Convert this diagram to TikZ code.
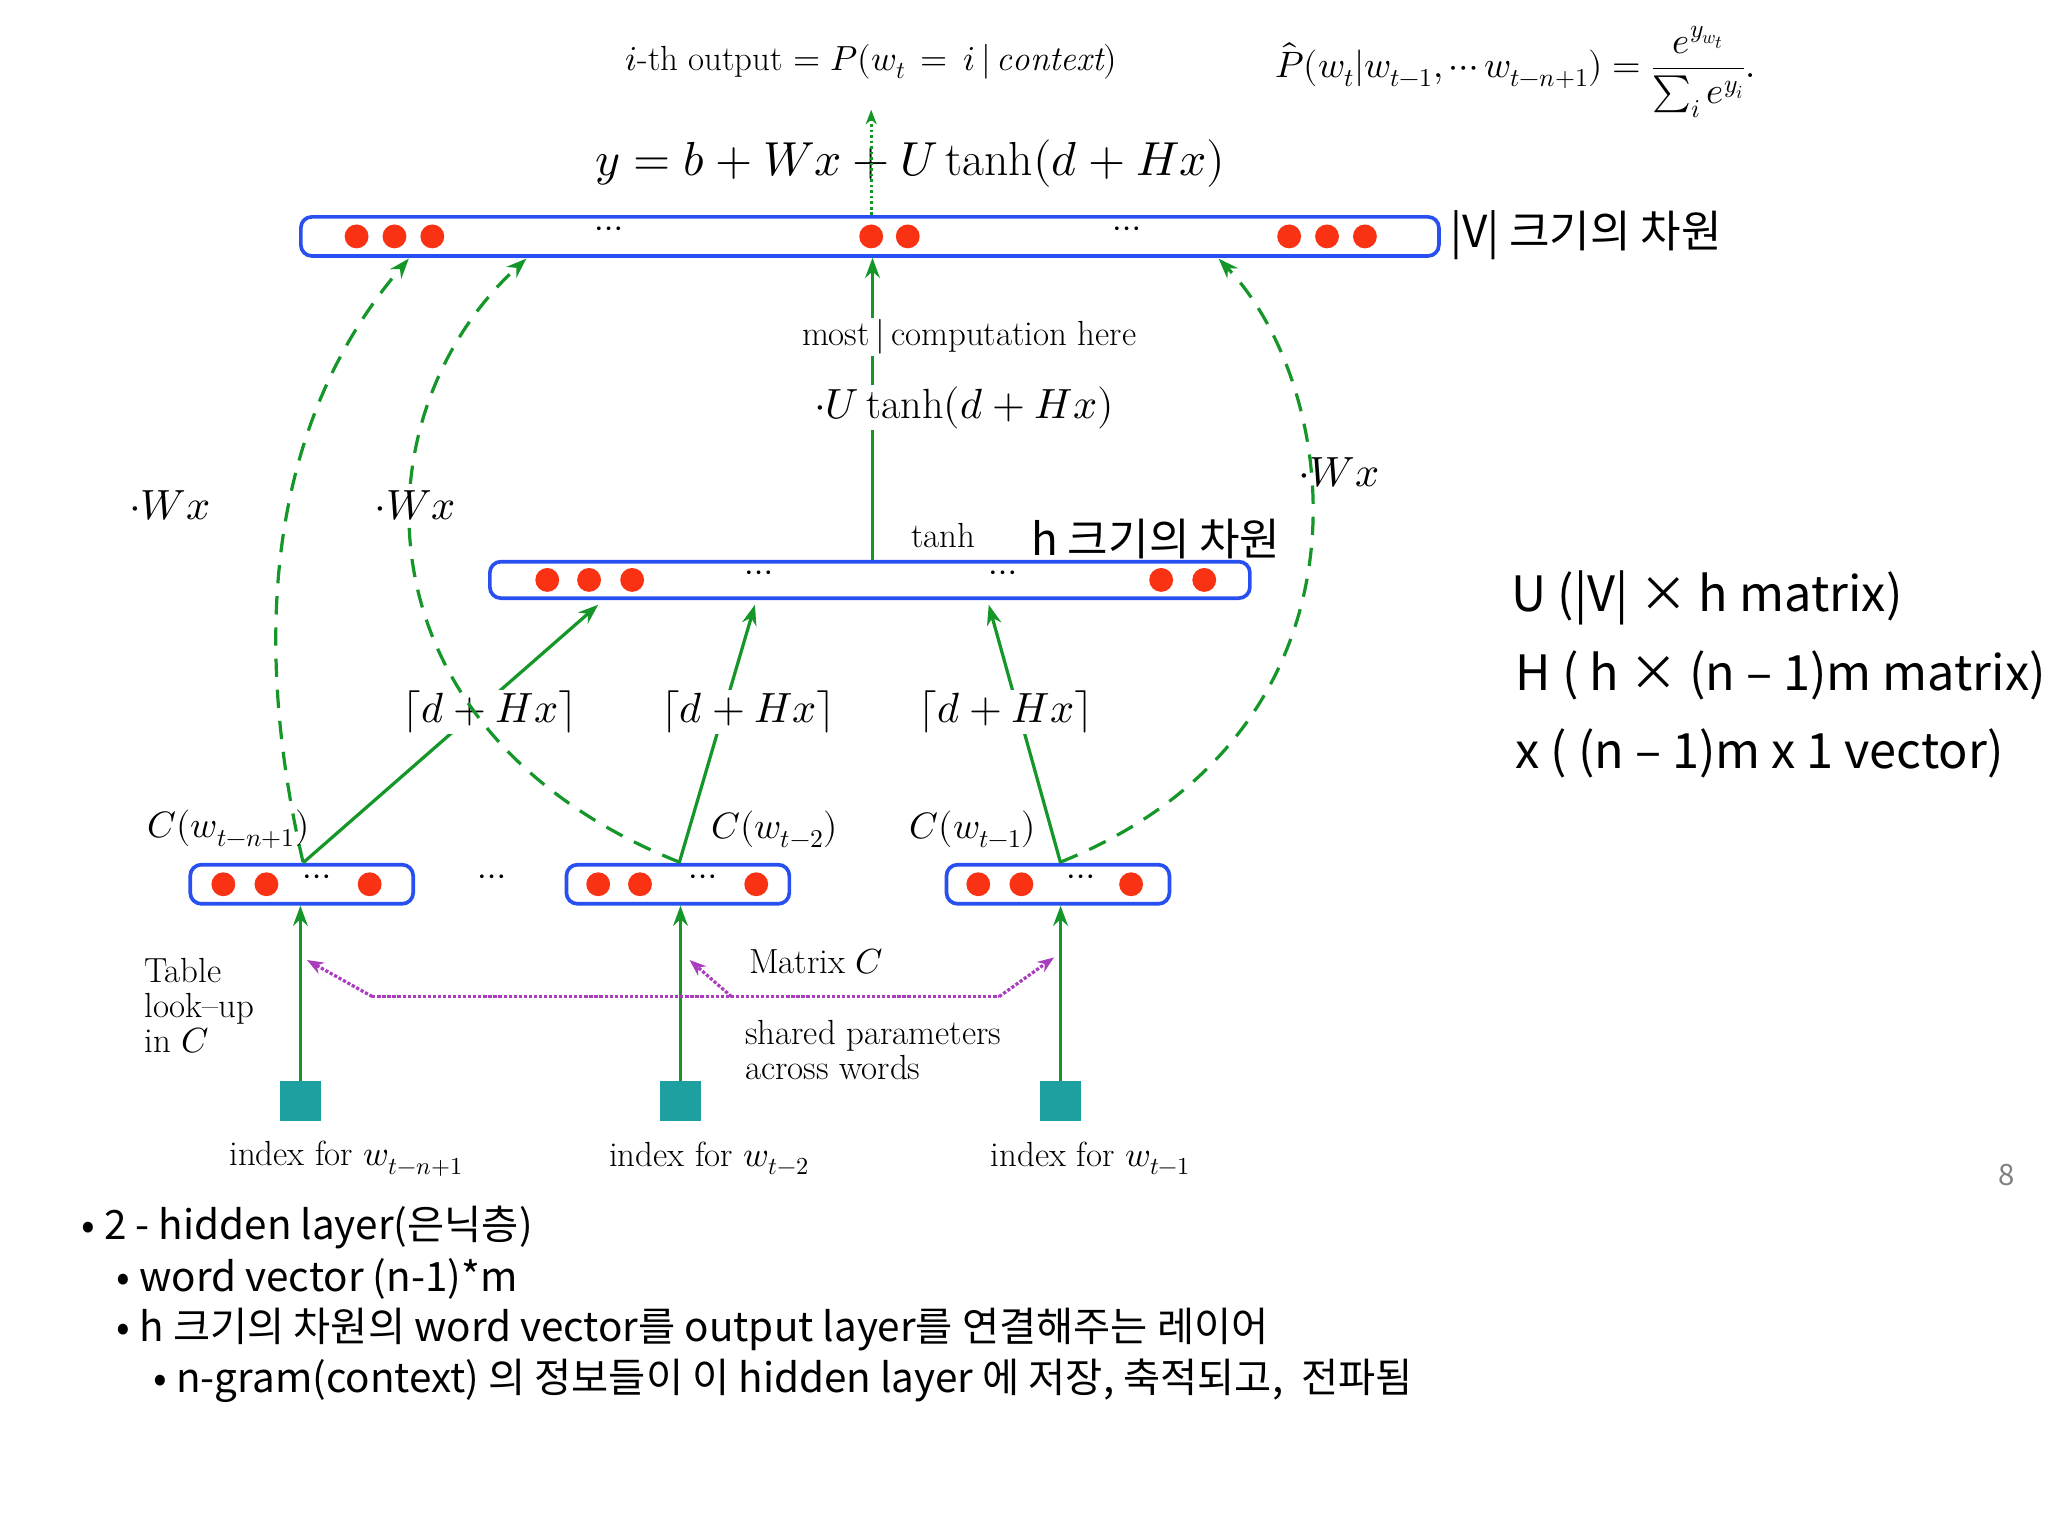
\documentclass[tikz,border=0pt]{standalone}
\usepackage{fontspec}
\usepackage{unicode-math}
\setmathfont{Latin Modern Math}
\newfontfamily\kr{Noto Sans CJK KR}
\usetikzlibrary{arrows.meta}
\newcommand{\fsz}[1]{\fontsize{#1}{#1}\selectfont}
\definecolor{gr}{RGB}{20,150,40}
\definecolor{bl}{RGB}{40,80,240}
\definecolor{rd}{RGB}{250,50,20}
\definecolor{tl}{RGB}{30,160,160}
\definecolor{pu}{RGB}{170,60,190}
\tikzset{bar/.style={draw=bl,line width=4pt,rounded corners=12pt,fill=white},
 dot/.style={circle,fill=rd,minimum size=26pt,inner sep=0pt},
 sq/.style={fill=tl,minimum size=44pt,inner sep=0pt},
 gl/.style={draw=gr,line width=3.5pt,-{Stealth[length=22pt,width=16pt]}},
 gd/.style={draw=gr,line width=3.5pt,dash pattern=on 20pt off 14pt,-{Stealth[length=22pt,width=16pt]}},
 pd/.style={draw=pu,line width=3.5pt,dotted},
 ser/.style={font=\fsz{38}},
 kt/.style={font=\kr\fsz{48}},
 rt/.style={font=\kr\fsz{53},anchor=west},
 bt/.style={font=\kr\fsz{44},anchor=west},
 ml/.style={font=\fsz{46}}}
\begin{document}
\begin{tikzpicture}[x=0.05cm,y=-0.05cm]
\useasboundingbox[fill=white] (0,0) rectangle (1568,1176);
% top formulas
\node[font=\fsz{38}] (f1) at (667,47) {$i$-th output $= P(w_t\,=\,i\,|\,\mathit{context})$};
\node[font=\fsz{40}] (f2) at (1160,55) {$\displaystyle\hat P(w_t|w_{t-1},\cdots w_{t-n+1}) = \frac{e^{y_{w_t}}}{\sum_i e^{y_i}}.$};
\node[font=\fsz{52}] (fy) at (697,125) {$y=b+Wx+U\tanh(d+Hx)$};
% bars
\node[bar,minimum width=873*1.42pt,minimum height=30*1.42pt] (top) at (666,181) {};
\node[bar,minimum width=583*1.42pt,minimum height=28*1.42pt] (hid) at (666,444) {};
\foreach \x/\n in {231/b1,519/b2,810/b3}
  \node[bar,minimum width=171*1.42pt,minimum height=30*1.42pt] (\n) at (\x,677) {};
\foreach \x in {273,302,331,667,695,987,1016,1045} \node[dot] at (\x,181) {};
\foreach \x in {466,863} \node[ser] at (\x,178) {$\cdots$};
\foreach \x in {419,451,484,889,922} \node[dot] at (\x,444) {};
\foreach \x in {581,768} \node[ser] at (\x,441) {$\cdots$};
\foreach \x in {171,204,283,458,490,579,749,782,866} \node[dot] at (\x,677) {};
\foreach \x in {243,538,828,377} \node[ser] at (\x,674) {$\cdots$};
\node[kt,anchor=west] (lv) at (1108,180) {|V| 크기의 차원};
\node[kt] (lh) at (885,413) {h 크기의 차원};
% up arrow
\draw[gl] (hid.north -| 668,0) -- (top.south -| 668,0);
\draw[gr,line width=3pt,dashed,-{Stealth[length=16pt]}] (top.north -| 667,0) -- (667,84);
\node[ser,fill=white,inner sep=2pt] (mc) at (742,258) {most\,|\,computation here};
\node[ml,fill=white,inner sep=2pt] (ut) at (738,312) {$\cdot U\tanh(d+Hx)$};
\node[ser] (th) at (722,410) {tanh};
% d+Hx lines
\coordinate (h1) at (458,463); \coordinate (h2) at (578,463); \coordinate (h3) at (757,463);
\draw[gl] (b1.north -| 232,0) -- (h1);
\draw[gl] (b2.north -| 520,0) -- (h2);
\draw[gl] (b3.north -| 812,0) -- (h3);
\foreach \x/\n in {375/d1,573/d2,770/d3} \node[ml,fill=white,inner sep=1pt] (\n) at (\x,545) {$\lceil d+Hx\rceil$};
% dashed curves
\coordinate (t1) at (313,198); \coordinate (t2) at (403,198); \coordinate (t3) at (933,198);
\draw[gd] (232,660) .. controls (195,500) and (200,330) .. (t1);
\draw[gd] (520,660) .. controls (270,560) and (270,320) .. (t2);
\draw[gd] (812,660) .. controls (1060,560) and (1030,300) .. (t3);
\node[ml] (w1) at (130,387) {$\cdot Wx$};
\node[ml,fill=white,inner sep=1pt] (w2) at (318,387) {$\cdot Wx$};
\node[ml] (w3) at (1025,362) {$\cdot Wx$};
\node[font=\fsz{40}] (c1) at (175,635) {$C(w_{t-n+1})$};
\node[font=\fsz{40}] (c2) at (593,635) {$C(w_{t-2})$};
\node[font=\fsz{40}] (c3) at (745,635) {$C(w_{t-1})$};
% squares
\foreach \x/\n in {230/s1,521/s2,812/s3} \node[sq] (\n) at (\x,843) {};
\draw[gl] (s1) -- (b1.south -| s1);
\draw[gl] (s2) -- (b2.south -| s2);
\draw[gl] (s3) -- (b3.south -| s3);
\node[ser] (i1) at (265,887) {index for $w_{t-n+1}$};
\node[ser] (i2) at (543,887) {index for $w_{t-2}$};
\node[ser] (i3) at (835,887) {index for $w_{t-1}$};
\node[ser,anchor=west,align=left] (tb) at (108,770) {Table\\ look--up\\ in $C$};
\node[ser] (mC) at (625,736) {Matrix $C$};
\node[ser,anchor=west,align=left] (sp) at (568,804) {shared parameters\\across words};
% purple
\coordinate (pl) at (285,763); \coordinate (pr) at (765,763);
\draw[pd] (pl) -- (pr);
\draw[pd,-{Stealth[length=18pt]}] (pl) -- (235,735);
\draw[pd,-{Stealth[length=18pt]}] (pr) -- (807,733);
\draw[pd,-{Stealth[length=18pt]}] (560,763) -- (528,735);
% right texts
\node[rt] (r1) at (1155,458) {U (|V| × h matrix)};
\node[rt] (r2) at (1158,517) {H ( h × (n – 1)m matrix)};
\node[rt] (r3) at (1158,577) {x ( (n – 1)m x 1 vector)};
\node[font=\kr\fsz{32},text=gray] (pg) at (1536,900) {8};
% bullets
\node[bt] (l1) at (60,940) {• 2 - hidden layer(은닉층)};
\node[bt] (l2) at (87,979) {• word vector (n-1)*m};
\node[bt] (l3) at (87,1018) {• h 크기의 차원의 word vector를 output layer를 연결해주는 레이어};
\node[bt] (l4) at (115,1057) {• n-gram(context) 의 정보들이 이 hidden layer 에 저장, 축적되고,\ \ 전파됨};
\end{tikzpicture}
\end{document}
